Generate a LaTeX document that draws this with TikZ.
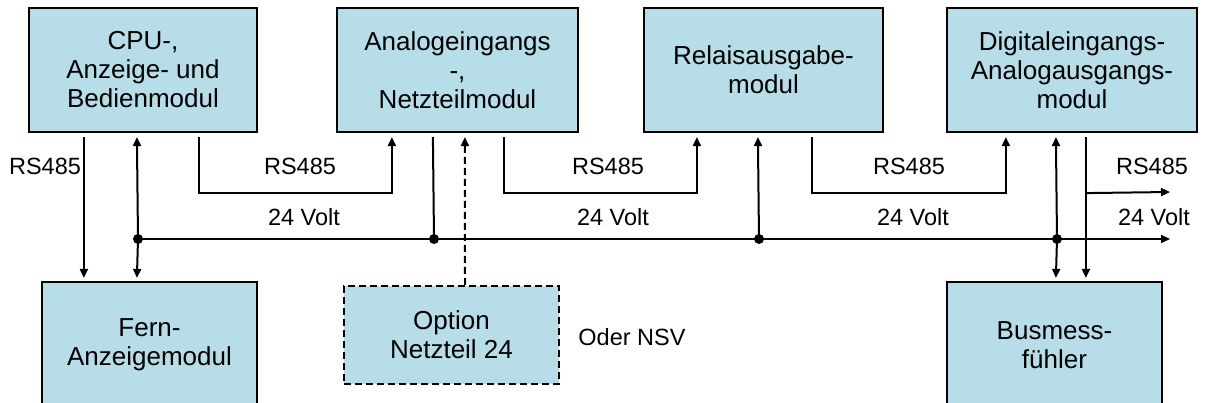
\documentclass[tikz,border=0pt]{standalone}
\usepackage{fontspec}
\setmainfont{Liberation Sans}
\usetikzlibrary{arrows.meta,calc}
\definecolor{boxfill}{HTML}{B7DDE8}
\tikzset{
  modbox/.style={draw=black, line width=2.2pt, fill=boxfill, align=center, inner sep=0pt,
    font=\fontsize{26}{29}\selectfont},
  optbox/.style={modbox, line width=2pt, dash pattern=on 7pt off 4pt},
  conn/.style={line width=2pt},
  arr/.style={conn, -{Triangle[length=9pt,width=8pt]}},
  lbl/.style={anchor=base, inner sep=0pt, font=\fontsize{23.5}{27}\selectfont},
  junction/.style={circle, fill=black, inner sep=0pt, minimum size=10pt}
}
\begin{document}
\begin{tikzpicture}[x=1pt,y=-1pt]
\useasboundingbox (0,0) rectangle (1205,403);
\clip (0,0) rectangle (1205,403);
% modules
\node[modbox, minimum width=228pt, minimum height=124pt] (cpu) at (143,70) {CPU-,\\Anzeige- und\\Bedienmodul};
\node[modbox, minimum width=241pt, minimum height=124pt] (ana) at (457.5,70) {Analogeingangs\\-,\\Netzteilmodul};
\node[modbox, minimum width=239pt, minimum height=124pt] (rel) at (763.5,70) {Relaisausgabe-\\modul};
\node[modbox, minimum width=250pt, minimum height=124pt] (dig) at (1072,70) {Digitaleingangs-\\Analogausgangs-\\modul};
\node[modbox, minimum width=215pt, minimum height=126pt] (fern) at (149.5,345) {Fern-\\Anzeigemodul};
\node[optbox, minimum width=215pt, minimum height=98pt] (opt) at (451.5,335) {Option\\Netzteil 24};
\node[modbox, minimum width=215pt, minimum height=126pt] (busf) at (1054.5,345) {Busmess-\\fühler};
% bus coordinates
\coordinate (j1) at (138,239);
\coordinate (j2) at (434,239);
\coordinate (j3) at (759,239);
\coordinate (j4) at (1057,239);
\coordinate (busend) at (1170,239);
\coordinate (rsend) at (1170,192);
% 24 V bus
\draw[arr] (j1) -- (busend);
% CPU -> Fern RS485
\draw[arr] ($(cpu.south west)+(56,4)$) -- ($(fern.north west)+(43,-3)$);
% j1 up and down
\draw[arr] (j1) -- ($(cpu.south west)+(109,4)$);
\draw[arr] (j1) -- ($(fern.north west)+(96,-3)$);
% CPU RS485 -> Analog
\draw[arr] ($(cpu.south west)+(171,4)$) -- ++(0,56) -| ($(ana.south west)+(56,4)$);
% Analog -> bus
\draw[conn] ($(ana.south west)+(97,4)$) -- (j2);
% Option -> Analog (dashed)
\draw[arr, dash pattern=on 7pt off 4pt] ($(opt.north west)+(122,0)$) -- ($(ana.south west)+(129,4)$);
% Analog RS485 -> Relais
\draw[arr] ($(ana.south west)+(168,4)$) -- ++(0,56) -| ($(rel.south west)+(54,4)$);
% j3 -> Relais
\draw[arr] (j3) -- ($(rel.south west)+(115,4)$);
% Relais RS485 -> Digital
\draw[arr] ($(rel.south west)+(169,4)$) -- ++(0,56) -| ($(dig.south west)+(60,4)$);
% j4 up and down
\draw[arr] (j4) -- ($(dig.south west)+(110,4)$);
\draw[arr] (j4) -- ($(busf.north west)+(110,-3)$);
% Digital RS485 out and to Busmessfuehler
\draw[arr] ($(dig.south west)+(140,4)$) -- ($(busf.north west)+(140,-3)$);
\draw[arr] ($(dig.south west)+(140,60)$) coordinate (rsb) -- (rsend);
% junction dots
\foreach \j in {j1,j2,j3,j4} \node[junction] at (\j) {};
% labels
\node[lbl] (l1) at (45,175) {RS485};
\node[lbl] (l2) at (300,175) {RS485};
\node[lbl] (l3) at (608,175) {RS485};
\node[lbl] (l4) at (909,175) {RS485};
\node[lbl] (l5) at (1152,175) {RS485};
\node[lbl] (v1) at (304,226) {24 Volt};
\node[lbl] (v2) at (613,226) {24 Volt};
\node[lbl] (v3) at (913,226) {24 Volt};
\node[lbl] (v4) at (1154,226) {24 Volt};
\node[lbl] (nsv) at (632,345) {Oder NSV};
\end{tikzpicture}
\end{document}
